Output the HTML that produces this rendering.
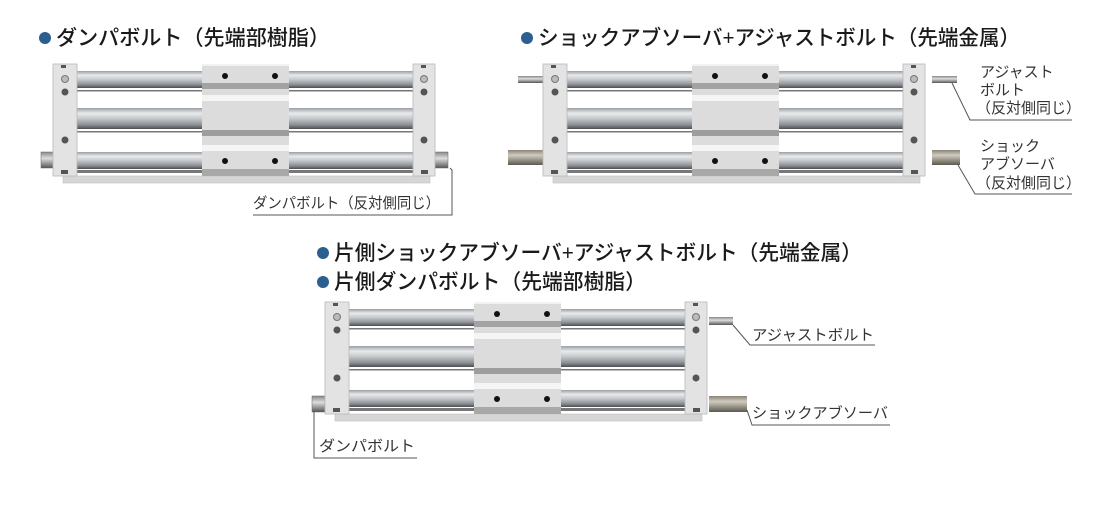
<!DOCTYPE html>
<html><head><meta charset="utf-8">
<style>
html,body{margin:0;padding:0;background:#fff;}
body{width:1100px;height:506px;overflow:hidden;}
svg{display:block;}
.t{font-family:"Liberation Sans","Noto Sans CJK JP",sans-serif;font-size:21px;fill:#1a1a1a;font-weight:500;}
.l{font-family:"Liberation Sans","Noto Sans CJK JP",sans-serif;font-size:15px;fill:#333;}
.b{fill:#2b5f8f;}
</style></head><body>
<svg width="1100" height="506" viewBox="0 0 1100 506" xmlns="http://www.w3.org/2000/svg">
<defs>
<linearGradient id="rod" x1="0" y1="0" x2="0" y2="1">
<stop offset="0" stop-color="#9a9ea3"/><stop offset="0.25" stop-color="#e8eaec"/><stop offset="0.5" stop-color="#c6c9cc"/><stop offset="0.8" stop-color="#8c9095"/><stop offset="1" stop-color="#4a4d52"/>
</linearGradient>
<linearGradient id="brass" x1="0" y1="0" x2="0" y2="1">
<stop offset="0" stop-color="#8a8478"/><stop offset="0.35" stop-color="#d0cbbf"/><stop offset="1" stop-color="#5d584f"/>
</linearGradient>
<linearGradient id="steel" x1="0" y1="0" x2="0" y2="1">
<stop offset="0" stop-color="#888"/><stop offset="0.4" stop-color="#ddd"/><stop offset="1" stop-color="#555"/>
</linearGradient>
<g id="unit">
<rect x="10" y="112" width="367" height="7" fill="#d6d6d6" stroke="#c2c2c2" stroke-width="0.6"/>
<rect x="22" y="7" width="340" height="17" fill="url(#rod)"/>
<rect x="22" y="44" width="340" height="21" fill="url(#rod)"/>
<rect x="22" y="88" width="340" height="17" fill="url(#rod)"/>
<rect x="22" y="26" width="340" height="1.5" fill="#777"/>
<rect x="22" y="67" width="340" height="1.5" fill="#777"/>
<rect x="22" y="106" width="340" height="3" fill="#777"/>
<rect x="0" y="0" width="24" height="112" fill="#e3e3e3" stroke="#b8b8b8" stroke-width="0.8"/>
<rect x="360" y="0" width="22" height="112" fill="#e3e3e3" stroke="#b8b8b8" stroke-width="0.8"/>
<g fill="#555">
<circle cx="12" cy="15" r="3.5" fill="#bbb" stroke="#777"/><circle cx="12" cy="28" r="3.5"/><circle cx="12" cy="76" r="3.5"/>
<circle cx="371" cy="15" r="3.5" fill="#bbb" stroke="#777"/><circle cx="371" cy="28" r="3.5"/><circle cx="371" cy="76" r="3.5"/>
<rect x="8" y="106" width="7" height="4"/><rect x="368" y="106" width="7" height="4"/>
<rect x="8" y="1" width="5" height="3"/><rect x="368" y="1" width="5" height="3"/>
</g>
<rect x="149" y="0" width="87" height="112" fill="#dcdcdc"/>
<rect x="149" y="0" width="87" height="2" fill="#f2f2f2"/>
<rect x="149" y="19" width="87" height="6" fill="#a3a3a3"/>
<rect x="149" y="31" width="87" height="6" fill="#f5f5f5"/>
<rect x="149" y="66" width="87" height="6" fill="#9d9d9d"/>
<rect x="149" y="81" width="87" height="6" fill="#f5f5f5"/>
<rect x="149" y="105" width="87" height="7" fill="#a8a8a8"/>
<g fill="#111"><circle cx="172" cy="12" r="3"/><circle cx="222" cy="12" r="3"/><circle cx="172" cy="97" r="3"/><circle cx="222" cy="97" r="3"/></g>
</g>
</defs>

<!-- Titles -->
<circle class="b" cx="45" cy="38" r="6"/>
<text class="t" x="56" y="45" textLength="274" lengthAdjust="spacingAndGlyphs">ダンパボルト（先端部樹脂）</text>
<circle class="b" cx="527" cy="38" r="6"/>
<text class="t" x="538" y="45" textLength="482" lengthAdjust="spacingAndGlyphs">ショックアブソーバ+アジャストボルト（先端金属）</text>
<circle class="b" cx="323" cy="253" r="6"/>
<text class="t" x="334" y="260" textLength="528" lengthAdjust="spacingAndGlyphs">片側ショックアブソーバ+アジャストボルト（先端金属）</text>
<circle class="b" cx="323" cy="282" r="6"/>
<text class="t" x="334" y="289" textLength="312" lengthAdjust="spacingAndGlyphs">片側ダンパボルト（先端部樹脂）</text>

<!-- Unit 1 -->
<rect x="41" y="152" width="13" height="16" fill="url(#steel)" stroke="#666" stroke-width="0.5"/>
<rect x="434" y="152" width="14" height="16" fill="url(#steel)" stroke="#666" stroke-width="0.5"/>
<use href="#unit" x="53" y="64"/>
<polyline points="450,168 452,170 452,215 253,215" fill="none" stroke="#555" stroke-width="1"/>
<text class="l" x="253" y="208" textLength="187" lengthAdjust="spacingAndGlyphs">ダンパボルト（反対側同じ）</text>

<!-- Unit 2 -->
<rect x="518" y="76" width="25" height="7" fill="url(#steel)"/>
<rect x="932" y="76" width="25" height="7" fill="url(#steel)"/>
<rect x="508" y="150" width="37" height="15" fill="url(#brass)"/>
<rect x="932" y="150" width="28" height="15" fill="url(#brass)"/>
<use href="#unit" x="543" y="64"/>
<polyline points="952,83 970,120 1072,120" fill="none" stroke="#555" stroke-width="1"/>
<text class="l" x="980" y="77">アジャスト</text>
<text class="l" x="980" y="95">ボルト</text>
<text class="l" x="976" y="113">（反対側同じ）</text>
<polyline points="958,165 975,194 1072,194" fill="none" stroke="#555" stroke-width="1"/>
<text class="l" x="980" y="151">ショック</text>
<text class="l" x="980" y="169">アブソーバ</text>
<text class="l" x="976" y="188">（反対側同じ）</text>

<!-- Unit 3 -->
<rect x="312" y="396" width="13" height="16" fill="url(#steel)" stroke="#666" stroke-width="0.5"/>
<rect x="709" y="317" width="24" height="8" fill="url(#steel)"/>
<rect x="709" y="396" width="38" height="16" fill="url(#brass)"/>
<use href="#unit" x="325" y="302"/>
<polyline points="733,325 750,345 875,345" fill="none" stroke="#555" stroke-width="1"/>
<text class="l" x="752" y="340" textLength="122" lengthAdjust="spacingAndGlyphs">アジャストボルト</text>
<polyline points="747,410 752,425 890,425" fill="none" stroke="#555" stroke-width="1"/>
<text class="l" x="752" y="418" textLength="136" lengthAdjust="spacingAndGlyphs">ショックアブソーバ</text>
<polyline points="314,412 314,458 417,458" fill="none" stroke="#555" stroke-width="1"/>
<text class="l" x="319" y="451" textLength="96" lengthAdjust="spacingAndGlyphs">ダンパボルト</text>
</svg>
</body></html>
